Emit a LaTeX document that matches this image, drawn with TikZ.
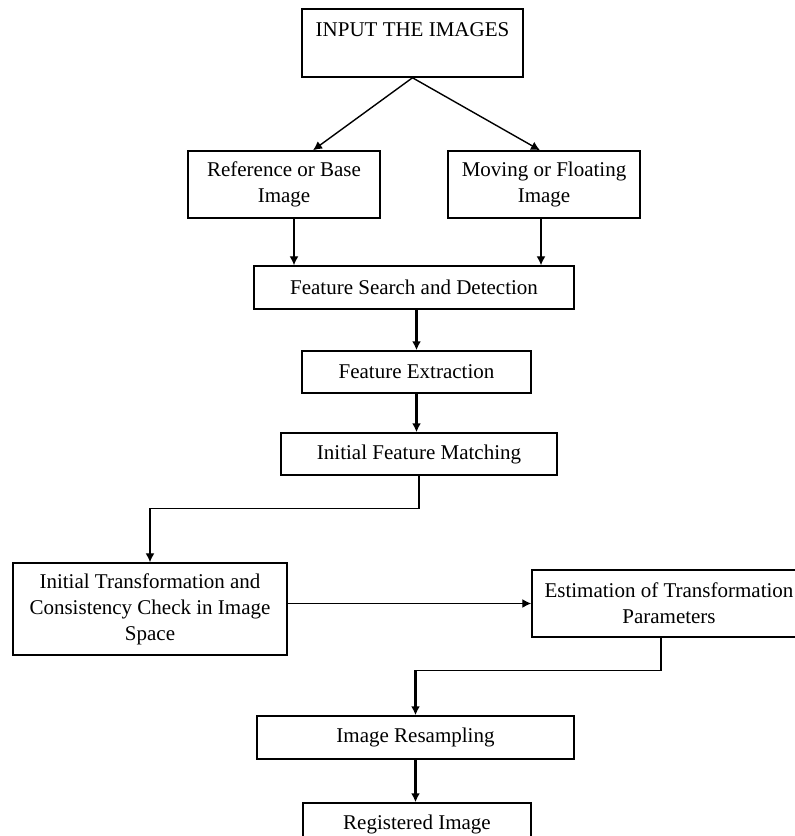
\documentclass[tikz,border=0pt]{standalone}
\usepackage{fontspec}
\setmainfont{Liberation Serif}
\usetikzlibrary{arrows.meta}

\begin{document}
\begin{tikzpicture}[x=0.5pt, y=-0.5pt,
	box/.style={draw, line width=0.75pt, inner sep=0pt, align=center, font=\fontsize{10.5}{13}\selectfont},
	link/.style={line width=0.7pt, -{Latex[length=4.5pt,width=4.5pt]}},
	boldlink/.style={line width=1.1pt, -{Latex[length=4.5pt,width=4.5pt]}}]

\clip (0,0) rectangle (795,836);
\fill[white] (0,0) rectangle (795,836);

\node[box, minimum width=110.5pt, minimum height=34pt] (input) at (412.5,43) {INPUT THE IMAGES\\~};
\node[box, minimum width=96pt, minimum height=33.5pt] (ref) at (284,184.5) {Reference or Base\\Image};
\node[box, minimum width=96pt, minimum height=33.5pt] (mov) at (544,184.5) {Moving or Floating\\Image};
\node[box, minimum width=160pt, minimum height=21.5pt] (search) at (414,287.5) {Feature Search and Detection};
\node[box, minimum width=114.5pt, minimum height=21pt] (extract) at (416.5,372) {Feature Extraction};
\node[box, minimum width=138pt, minimum height=21pt] (match) at (419,454) {Initial Feature Matching};
\node[box, minimum width=137pt, minimum height=46pt] (check) at (150,609) {Initial Transformation and\\Consistency Check in Image\\Space};
\node[box, minimum width=137pt, minimum height=33.5pt] (params) at (669,603.5) {Estimation of Transformation\\Parameters};
\node[box, minimum width=158.5pt, minimum height=21.5pt] (resample) at (415.5,737.5) {Image Resampling};
\node[box, minimum width=114pt, minimum height=21.5pt] (registered) at (417,824.5) {Registered Image};

\draw[link] (input.south) -- ([xshift=14.5pt]ref.north);
\draw[link] (input.south) -- ([xshift=-2pt]mov.north);
\draw[link] ([xshift=5pt]ref.south) -- ([xshift=5pt]ref.south |- search.north);
\draw[link] ([xshift=-1.5pt]mov.south) -- ([xshift=-1.5pt]mov.south |- search.north);
\draw[boldlink] (search.south -| extract.north) -- (extract.north);
\draw[boldlink] (extract.south) -- (extract.south |- match.north);
\draw[link] (match.south) -- ++(0,33) -| (check.north);
\draw[link] (check.east |- params.west) -- (params.west);
\draw[line width=0.7pt] ([xshift=-4pt]params.south) |- ([yshift=22.5pt]resample.north);
\draw[boldlink] ([yshift=22.5pt]resample.north) -- (resample.north);
\draw[boldlink] (resample.south) -- (resample.south |- registered.north);

\end{tikzpicture}
\end{document}
